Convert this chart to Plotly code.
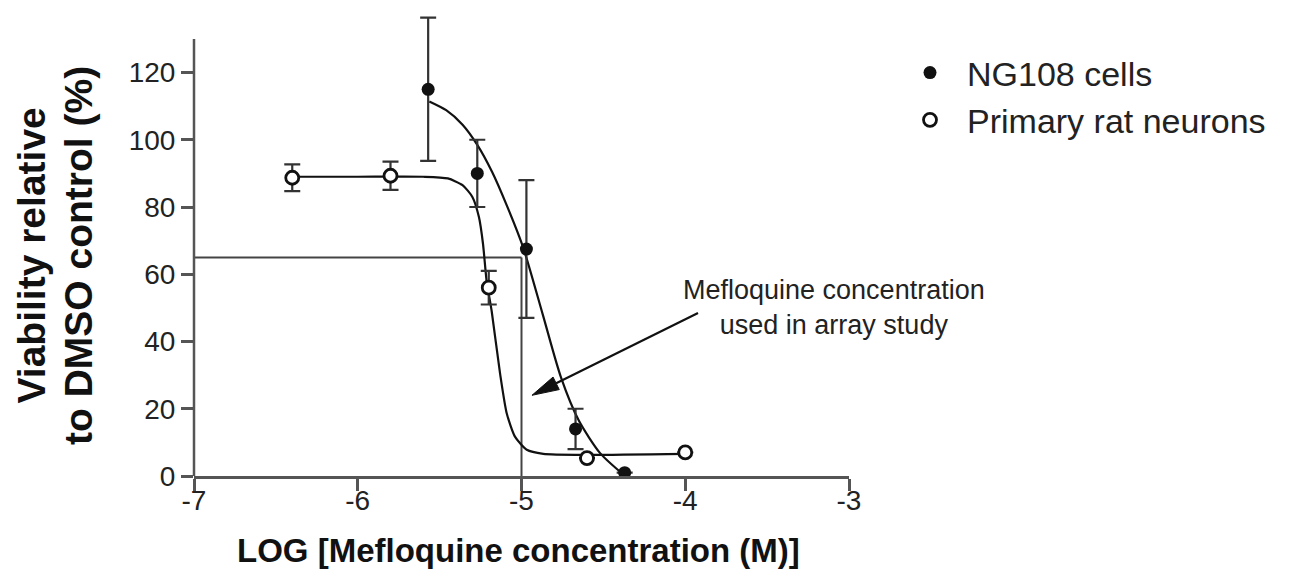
import math
import plotly.graph_objects as go

# ---------------- data ----------------
ng_x = [-5.57, -5.27, -4.97, -4.67, -4.37]
ng_y = [115.0, 90.0, 67.5, 14.0, 1.0]
ng_err = [21.3, 10.0, 20.5, 6.0, 0.0]

pr_x = [-6.40, -5.80, -5.20, -4.60, -4.00]
pr_y = [88.7, 89.3, 56.0, 5.3, 7.0]
pr_err = [4.0, 4.2, 5.0, 0.0, 0.0]

# fitted curves, points
ng_fit_x = [-5.563, -5.46, -5.36, -5.27, -5.18, -5.09, -4.99, -4.87, -4.76, -4.65, -4.52, -4.38]
ng_fit_y = [111.4, 108.8, 104.5, 98.5, 90.5, 80.5, 68.0, 48.0, 29.5, 16.5, 6.8, 0.5]

pr_fit_x = [-6.40, -6.0, -5.6, -5.45, -5.36, -5.30, -5.26, -5.235, -5.213, -5.182, -5.131, -5.090, -5.040, -4.968, -4.867, -4.60, -4.00]
pr_fit_y = [89.0, 89.0, 89.0, 88.5, 86.5, 83.0, 77.0, 69.0, 58.0, 49.0, 30.5, 18.6, 11.7, 7.8, 6.6, 6.3, 6.6]

x_ticks = [-7, -6, -5, -4, -3]
x_ticktext = ["-7", "-6", "-5", "-4", "-3"]
y_ticks = [0, 20, 40, 60, 80, 100, 120]
y_ticktext = ["0", "20", "40", "60", "80", "100", "120"]

series_names = ["NG108 cells", "Primary rat neurons"]

# reference marks: the concentration used in the array study
ref_x = -5.0
ref_y = 65.0

# ---------------- styles / geometry ----------------
FONT = "Liberation Sans, Arial, Helvetica, sans-serif"
AXIS_COLOR = "#555555"
INK = "#111111"

W, H = 1281, 573          # page body has an 8px margin
L, R, T, B = 186, 440, 4, 105
PW = W - L - R            # 655
PH = H - T - B            # 464
X_RANGE = [-7, -3]
Y_RANGE = [0, 138]
PX_PER_X = PW / (X_RANGE[1] - X_RANGE[0])
PX_PER_Y = PH / (Y_RANGE[1] - Y_RANGE[0])


def px_x(xr):
    """reference-image x pixel -> paper x"""
    return (xr - 194) / PW


def px_y(yr):
    """reference-image y pixel -> paper y"""
    return (476 - yr) / PH


fig = go.Figure()

fig.add_trace(go.Scatter(
    x=pr_fit_x, y=pr_fit_y, mode="lines",
    line=dict(color=INK, width=2.2, shape="spline", smoothing=0.6),
    showlegend=False, hoverinfo="skip"))
fig.add_trace(go.Scatter(
    x=ng_fit_x, y=ng_fit_y, mode="lines",
    line=dict(color=INK, width=2.2, shape="spline", smoothing=0.7),
    showlegend=False, hoverinfo="skip"))

fig.add_trace(go.Scatter(
    x=ng_x, y=ng_y, mode="markers", name=series_names[0],
    marker=dict(symbol="circle", size=13, color=INK, line=dict(width=0)),
    error_y=dict(type="data", array=ng_err, visible=True, color="#333333",
                 thickness=2.2, width=8)))
fig.add_trace(go.Scatter(
    x=pr_x, y=pr_y, mode="markers", name=series_names[1],
    marker=dict(symbol="circle", size=13, color="white", line=dict(width=2.8, color=INK)),
    error_y=dict(type="data", array=pr_err, visible=True, color="#333333",
                 thickness=2.2, width=8)))

# y-axis line (0..130) drawn as a shape so that the tall error bar is not clipped
fig.add_shape(type="line", xref="paper", yref="y", x0=0, x1=0, y0=0, y1=130,
              line=dict(color=AXIS_COLOR, width=2.5), layer="above")
# concentration guide lines
fig.add_shape(type="line", xref="x", yref="y", x0=X_RANGE[0], x1=ref_x, y0=ref_y, y1=ref_y,
              line=dict(color="#444444", width=2), layer="below")
fig.add_shape(type="line", xref="x", yref="y", x0=ref_x, x1=ref_x, y0=0, y1=ref_y,
              line=dict(color="#444444", width=2), layer="below")

# ---- callout arrow: slender filled head, drawn in pixel space then mapped to data ----
arrow_tip = (-4.936, 24.0)
arrow_tail = (-3.922, 48.5)
HEAD_LEN, HEAD_HALF_W = 27, 7

tx, ty = arrow_tip[0] * PX_PER_X, -arrow_tip[1] * PX_PER_Y
sx, sy = arrow_tail[0] * PX_PER_X, -arrow_tail[1] * PX_PER_Y
dx, dy = sx - tx, sy - ty
dl = math.hypot(dx, dy)
ux, uy = dx / dl, dy / dl
nx, ny = -uy, ux
bx, by = tx + HEAD_LEN * ux, ty + HEAD_LEN * uy


def to_data(px, py):
    return px / PX_PER_X, -py / PX_PER_Y


p1 = to_data(bx + HEAD_HALF_W * nx, by + HEAD_HALF_W * ny)
p2 = to_data(bx - HEAD_HALF_W * nx, by - HEAD_HALF_W * ny)
base = to_data(bx, by)
fig.add_shape(type="line", xref="x", yref="y", x0=arrow_tail[0], y0=arrow_tail[1],
              x1=base[0], y1=base[1], line=dict(color=INK, width=2.2))
fig.add_shape(type="path", xref="x", yref="y",
              path=f"M {arrow_tip[0]},{arrow_tip[1]} L {p1[0]},{p1[1]} L {p2[0]},{p2[1]} Z",
              fillcolor=INK, line=dict(color=INK, width=1))

fig.add_annotation(x=-3.092, y=50.2, xref="x", yref="y",
                   text="Mefloquine concentration<br>used in array study",
                   showarrow=False, align="center", xanchor="center", yanchor="middle",
                   font=dict(family=FONT, size=27, color="#222222"))

# axis titles
fig.add_annotation(x=px_x(518), y=px_y(550), xref="paper", yref="paper",
                   text="<b>LOG [Mefloquine concentration (M)]</b>", showarrow=False,
                   xanchor="center", yanchor="middle",
                   font=dict(family=FONT, size=33, color="#111111"))
fig.add_annotation(x=-L / PW, y=px_y(256), xref="paper", yref="paper",
                   text="<b>Viability relative</b>", showarrow=False, textangle=-90,
                   xanchor="left", yanchor="middle", borderpad=0,
                   font=dict(family=FONT, size=39, color="#111111"))
fig.add_annotation(x=px_x(78), y=px_y(256), xref="paper", yref="paper",
                   text="<b>to DMSO control (%)</b>", showarrow=False, textangle=-90,
                   xanchor="center", yanchor="middle",
                   font=dict(family=FONT, size=39, color="#111111"))

fig.update_layout(
    width=W, height=H,
    margin=dict(l=L, r=R, t=T, b=B, autoexpand=False),
    paper_bgcolor="white", plot_bgcolor="white",
    font=dict(family=FONT, color="#222222"),
    showlegend=True,
    legend=dict(x=px_x(893), y=px_y(44), xanchor="left", yanchor="top",
                font=dict(family=FONT, size=34, color="#222222"),
                bgcolor="rgba(0,0,0,0)", itemwidth=64, tracegroupgap=0),
    xaxis=dict(range=X_RANGE, tickmode="array", tickvals=x_ticks, ticktext=x_ticktext,
               showline=True, linecolor=AXIS_COLOR, linewidth=2.5,
               ticks="outside", ticklen=12, tickwidth=2.5, tickcolor=AXIS_COLOR,
               ticklabelstandoff=-14,
               showgrid=False, zeroline=False,
               tickfont=dict(family=FONT, size=28, color="#222222")),
    yaxis=dict(range=Y_RANGE, tickmode="array", tickvals=y_ticks, ticktext=y_ticktext,
               showline=False, ticks="outside", ticklen=12, tickwidth=2.5, tickcolor=AXIS_COLOR,
               showgrid=False, zeroline=False,
               tickfont=dict(family=FONT, size=28, color="#222222")),
)

fig.write_html("out.html")
